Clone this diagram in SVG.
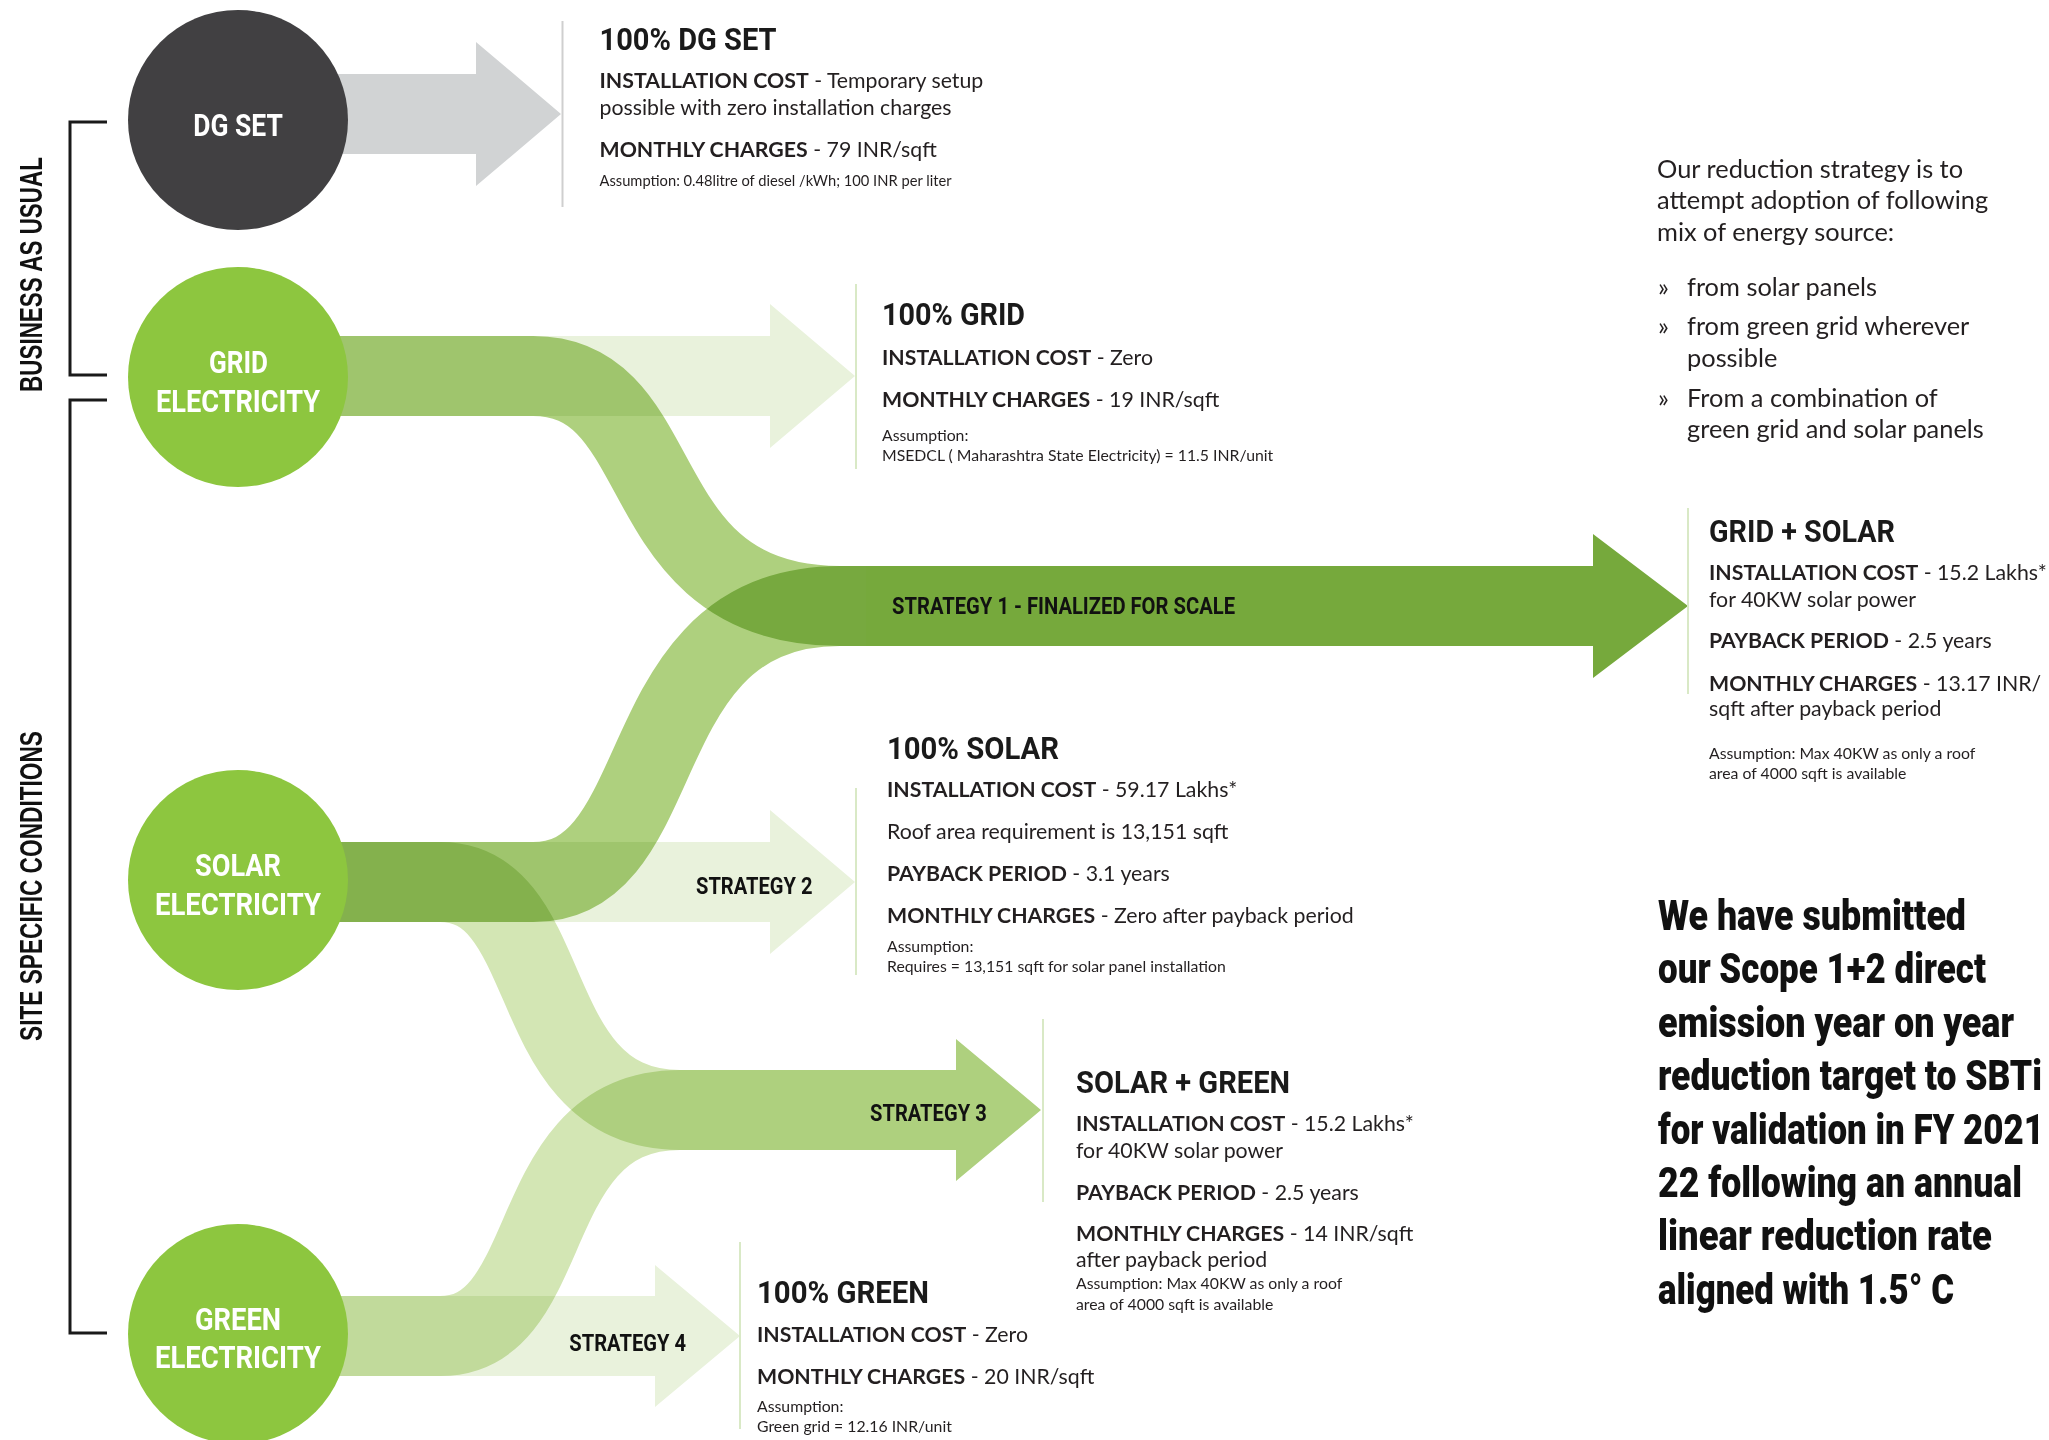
<svg xmlns="http://www.w3.org/2000/svg" width="2049" height="1440" viewBox="0 0 2049 1440">
<defs>
<style>
.flow{fill:none;stroke-width:80;stroke-linecap:butt;mix-blend-mode:multiply}
.mid{stroke:#aed07e}
.pale{stroke:#d3e6b4}
.tint{fill:#e9f2dc;mix-blend-mode:multiply}
.grey-arrow{fill:#d1d3d4}
.dark-arrow{fill:#76a93c}
.mid-arrow{fill:#aed07e}
.node-dark{fill:#414042}
.node-green{fill:#8dc63f}
.nlabel{font-family:Roboto,"Liberation Sans",sans-serif;font-weight:700;font-size:31.5px;fill:#fff;text-anchor:middle}
.head{font-family:Roboto,"Liberation Sans",sans-serif;font-weight:700;font-size:32px;fill:#1a1a1a}
.strat{font-family:Roboto,"Liberation Sans",sans-serif;font-weight:700;font-size:24.3px;fill:#111}
.body{font-family:Lato,"Liberation Sans",sans-serif;font-size:21.3px;fill:#231f20}
.b{font-weight:700}
.note{font-family:Lato,"Liberation Sans",sans-serif;font-size:15.8px;fill:#231f20}
.note-s{font-family:Lato,"Liberation Sans",sans-serif;font-size:14.7px;fill:#231f20}
.desc{font-family:Lato,"Liberation Sans",sans-serif;font-size:25.4px;fill:#231f20}
.big{font-family:Roboto,"Liberation Sans",sans-serif;font-weight:900;font-size:35px;fill:#111}
.side{font-family:"Liberation Sans",Arial,sans-serif;font-weight:700;font-size:31.4px;fill:#111;text-anchor:middle}
.rule-grey{stroke:#cfcfcf;stroke-width:2}
.rule-green{stroke:#d9e9c6;stroke-width:2}
.bracket{fill:none;stroke:#1a1a1a;stroke-width:3}
</style>
</defs>

<rect x="0" y="0" width="2049" height="1440" fill="#fff"/>

<!-- side brackets -->
<g id="brackets">
  <polyline class="bracket" points="107,122 70,122 70,375 107,375"/>
  <polyline class="bracket" points="107,400 70,400 70,1333 107,1333"/>
  <text class="side" transform="translate(41.5,274.5) rotate(-90)" textLength="235" lengthAdjust="spacingAndGlyphs">BUSINESS AS USUAL</text>
  <text class="side" transform="translate(41.5,886) rotate(-90)" textLength="310" lengthAdjust="spacingAndGlyphs">SITE SPECIFIC CONDITIONS</text>
</g>

<!-- flows and arrows -->
<g id="connectors">
  <polygon class="grey-arrow" points="238,74 476,74 476,42 561,114 476,186 476,154 238,154"/>
  <polygon class="tint" points="238,336 770,336 770,304 855,376 770,448 770,416 238,416"/>
  <polygon class="tint" points="238,842 770,842 770,810 855,882 770,954 770,922 238,922"/>
  <polygon class="tint" points="238,1296 655,1296 655,1265 740,1336 655,1407 655,1376 238,1376"/>
  <path class="flow mid" d="M238,376 H533 C676,376 625,606 840,606 H866"/>
  <path class="flow mid" d="M238,882 H533 C676,882 625,606 840,606 H866"/>
  <path class="flow pale" d="M238,882 H440 C560,882 520,1110 680,1110"/>
  <path class="flow pale" d="M238,1336 H440 C560,1336 520,1110 680,1110"/>
  <polygon class="dark-arrow" points="866,566 1593,566 1593,534 1688,606 1593,678 1593,646 866,646"/>
  <polygon class="mid-arrow" points="680,1070 956,1070 956,1039 1041,1110 956,1181 956,1150 680,1150"/>
  <text class="strat" x="892" y="614" textLength="343" lengthAdjust="spacingAndGlyphs">STRATEGY 1 - FINALIZED FOR SCALE</text>
  <text class="strat" x="696" y="894.3" textLength="116.6" lengthAdjust="spacingAndGlyphs">STRATEGY 2</text>
  <text class="strat" x="870" y="1120.7" textLength="116.7" lengthAdjust="spacingAndGlyphs">STRATEGY 3</text>
  <text class="strat" x="569.3" y="1350.7" textLength="116.7" lengthAdjust="spacingAndGlyphs">STRATEGY 4</text>
</g>

<!-- source nodes -->
<g id="node-dg-set">
  <circle class="node-dark" cx="238" cy="120" r="110"/>
  <text class="nlabel" x="238" y="135.7" textLength="89.5" lengthAdjust="spacingAndGlyphs">DG SET</text>
</g>
<g id="node-grid">
  <circle class="node-green" cx="238" cy="377" r="110"/>
  <text class="nlabel" x="238.5" y="373.3" textLength="59" lengthAdjust="spacingAndGlyphs">GRID</text>
  <text class="nlabel" x="238" y="411.7" textLength="164" lengthAdjust="spacingAndGlyphs">ELECTRICITY</text>
</g>
<g id="node-solar">
  <circle class="node-green" cx="238" cy="880" r="110"/>
  <text class="nlabel" x="238" y="876" textLength="86" lengthAdjust="spacingAndGlyphs">SOLAR</text>
  <text class="nlabel" x="238" y="915" textLength="166" lengthAdjust="spacingAndGlyphs">ELECTRICITY</text>
</g>
<g id="node-green">
  <circle class="node-green" cx="238" cy="1334" r="110"/>
  <text class="nlabel" x="238" y="1330" textLength="86" lengthAdjust="spacingAndGlyphs">GREEN</text>
  <text class="nlabel" x="238" y="1368" textLength="166" lengthAdjust="spacingAndGlyphs">ELECTRICITY</text>
</g>

<!-- outcome: diesel only -->
<g id="out-dg">
  <line class="rule-grey" x1="562.5" y1="21" x2="562.5" y2="207"/>
  <text class="head" x="599.5" y="50" textLength="177" lengthAdjust="spacingAndGlyphs">100% DG SET</text>
  <text class="body" x="599.5" y="88"><tspan class="b">INSTALLATION COST</tspan> - Temporary setup</text>
  <text class="body" x="599.5" y="115">possible with zero installation charges</text>
  <text class="body" x="599.5" y="157"><tspan class="b">MONTHLY CHARGES</tspan> - 79 INR/sqft</text>
  <text class="note-s" x="599.5" y="186">Assumption: 0.48litre of diesel /kWh; 100 INR per liter</text>
</g>

<!-- outcome: grid only -->
<g id="out-grid">
  <line class="rule-green" x1="856" y1="284" x2="856" y2="469"/>
  <text class="head" x="882" y="325" textLength="143" lengthAdjust="spacingAndGlyphs">100% GRID</text>
  <text class="body" x="882" y="365"><tspan class="b">INSTALLATION COST</tspan> - Zero</text>
  <text class="body" x="882" y="406.7"><tspan class="b">MONTHLY CHARGES</tspan> - 19 INR/sqft</text>
  <text class="note" x="882" y="440.7">Assumption:</text>
  <text class="note" x="882" y="461">MSEDCL ( Maharashtra State Electricity) = 11.5 INR/unit</text>
</g>

<!-- outcome: grid + solar -->
<g id="out-grid-solar">
  <line class="rule-green" x1="1688" y1="508" x2="1688" y2="694"/>
  <text class="head" x="1709" y="542" textLength="186" lengthAdjust="spacingAndGlyphs">GRID + SOLAR</text>
  <text class="body" x="1709" y="580"><tspan class="b">INSTALLATION COST</tspan> - 15.2 Lakhs*</text>
  <text class="body" x="1709" y="606.7">for 40KW solar power</text>
  <text class="body" x="1709" y="648"><tspan class="b">PAYBACK PERIOD</tspan> - 2.5 years</text>
  <text class="body" x="1709" y="690.6"><tspan class="b">MONTHLY CHARGES</tspan> - 13.17 INR/</text>
  <text class="body" x="1709" y="716">sqft after payback period</text>
  <text class="note" x="1709" y="759.4">Assumption: Max 40KW as only a roof</text>
  <text class="note" x="1709" y="778.6">area of 4000 sqft is available</text>
</g>

<!-- outcome: solar only -->
<g id="out-solar">
  <line class="rule-green" x1="856" y1="788" x2="856" y2="975"/>
  <text class="head" x="887" y="759.3" textLength="172" lengthAdjust="spacingAndGlyphs">100% SOLAR</text>
  <text class="body" x="887" y="797.3"><tspan class="b">INSTALLATION COST</tspan> - 59.17 Lakhs*</text>
  <text class="body" x="887" y="839.3">Roof area requirement is 13,151 sqft</text>
  <text class="body" x="887" y="881.3"><tspan class="b">PAYBACK PERIOD</tspan> - 3.1 years</text>
  <text class="body" x="887" y="923.3"><tspan class="b">MONTHLY CHARGES</tspan> - Zero after payback period</text>
  <text class="note" x="887" y="952.3">Assumption:</text>
  <text class="note" x="887" y="972.3">Requires = 13,151 sqft for solar panel installation</text>
</g>

<!-- outcome: solar + green -->
<g id="out-solar-green">
  <line class="rule-green" x1="1043" y1="1019" x2="1043" y2="1202"/>
  <text class="head" x="1076" y="1092.7" textLength="214" lengthAdjust="spacingAndGlyphs">SOLAR + GREEN</text>
  <text class="body" x="1076" y="1130.7"><tspan class="b">INSTALLATION COST</tspan> - 15.2 Lakhs*</text>
  <text class="body" x="1076" y="1158.3">for 40KW solar power</text>
  <text class="body" x="1076" y="1200"><tspan class="b">PAYBACK PERIOD</tspan> - 2.5 years</text>
  <text class="body" x="1076" y="1241"><tspan class="b">MONTHLY CHARGES</tspan> - 14 INR/sqft</text>
  <text class="body" x="1076" y="1267.3">after payback period</text>
  <text class="note" x="1076" y="1289.3">Assumption: Max 40KW as only a roof</text>
  <text class="note" x="1076" y="1310">area of 4000 sqft is available</text>
</g>

<!-- outcome: green only -->
<g id="out-green">
  <line class="rule-green" x1="740" y1="1242" x2="740" y2="1429"/>
  <text class="head" x="757" y="1303.3" textLength="172" lengthAdjust="spacingAndGlyphs">100% GREEN</text>
  <text class="body" x="757" y="1342.3"><tspan class="b">INSTALLATION COST</tspan> - Zero</text>
  <text class="body" x="757" y="1384.3"><tspan class="b">MONTHLY CHARGES</tspan> - 20 INR/sqft</text>
  <text class="note" x="757" y="1411.7">Assumption:</text>
  <text class="note" x="757" y="1432.3">Green grid = 12.16 INR/unit</text>
</g>

<!-- strategy notes -->
<g id="strategy-notes">
  <text class="desc" x="1657" y="178">Our reduction strategy is to</text>
  <text class="desc" x="1657" y="209.4">attempt adoption of following</text>
  <text class="desc" x="1657" y="240.6">mix of energy source:</text>
  <text class="desc" x="1658" y="296.4">»</text>
  <text class="desc" x="1687" y="296.4">from solar panels</text>
  <text class="desc" x="1658" y="335">»</text>
  <text class="desc" x="1687" y="335">from green grid wherever</text>
  <text class="desc" x="1687" y="367">possible</text>
  <text class="desc" x="1658" y="407">»</text>
  <text class="desc" x="1687" y="407">From a combination of</text>
  <text class="desc" x="1687" y="438.4">green grid and solar panels</text>
</g>

<!-- headline statement: tall, tight lettering drawn at 35px and stretched vertically -->
<g id="target-statement">
  <text class="big" transform="translate(1658,930) scale(1,1.2)" textLength="308" lengthAdjust="spacingAndGlyphs">We have submitted</text>
  <text class="big" transform="translate(1658,983.4) scale(1,1.2)" textLength="328" lengthAdjust="spacingAndGlyphs">our Scope 1+2 direct</text>
  <text class="big" transform="translate(1658,1036.8) scale(1,1.2)" textLength="356" lengthAdjust="spacingAndGlyphs">emission year on year</text>
  <text class="big" transform="translate(1658,1090.2) scale(1,1.2)" textLength="384" lengthAdjust="spacingAndGlyphs">reduction target to SBTi</text>
  <text class="big" transform="translate(1658,1143.6) scale(1,1.2)" textLength="386" lengthAdjust="spacingAndGlyphs">for validation in FY 2021</text>
  <text class="big" transform="translate(1658,1197) scale(1,1.2)" textLength="364" lengthAdjust="spacingAndGlyphs">22 following an annual</text>
  <text class="big" transform="translate(1658,1250.4) scale(1,1.2)" textLength="334" lengthAdjust="spacingAndGlyphs">linear reduction rate</text>
  <text class="big" transform="translate(1658,1303.8) scale(1,1.2)" textLength="296" lengthAdjust="spacingAndGlyphs">aligned with 1.5° C</text>
</g>
</svg>
